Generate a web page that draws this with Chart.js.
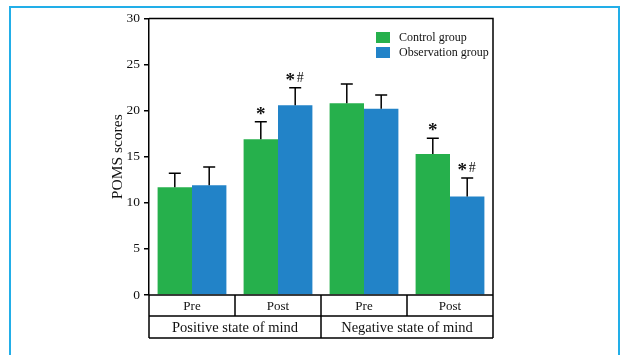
<!DOCTYPE html>
<html>
<head>
<meta charset="utf-8">
<script src="https://cdn.jsdelivr.net/npm/chart.js@4/dist/chart.umd.min.js"></script>
<style>
  html, body { margin: 0; padding: 0; background: #fff; }
  #wrap { position: relative; width: 623px; height: 355px; }
</style>
</head>
<body>
<div id="wrap"><canvas id="c" width="623" height="355"></canvas></div>
<script>
// POMS scores, mean with upper SD whisker
const timepoints = ['Pre', 'Post', 'Pre', 'Post'];
const domains = ['Positive state of mind', 'Negative state of mind'];
const seriesNames = ['Control group', 'Observation group'];
const controlMeans = [11.7, 16.9, 20.8, 15.3];
const controlSD = [1.5, 1.9, 2.1, 1.7];
const observationMeans = [11.9, 20.6, 20.2, 10.7];
const observationSD = [2.0, 1.9, 1.5, 2.0];
const controlMarks = ['', '*', '', '*'];
const observationMarks = ['', '*#', '', '*#'];
const yTicks = [0, 5, 10, 15, 20, 25, 30];

const GREEN = '#26b04c';
const BLUE = '#2283c8';
const SERIF = '"Liberation Serif", "Times New Roman", serif';

const sdBySet = [controlSD, observationSD];
const marksBySet = [controlMarks, observationMarks];

const figurePlugin = {
  id: 'figure',
  afterDatasetsDraw(chart) {
    const ctx = chart.ctx;
    const y = chart.scales.y;
    ctx.save();
    ctx.strokeStyle = '#000';
    ctx.fillStyle = '#111';
    ctx.lineWidth = 1.5;
    chart.data.datasets.forEach((ds, di) => {
      const meta = chart.getDatasetMeta(di);
      meta.data.forEach((bar, i) => {
        const top = y.getPixelForValue(ds.data[i] + sdBySet[di][i]);
        const base = y.getPixelForValue(ds.data[i]);
        const cx = bar.x;
        ctx.beginPath();
        ctx.moveTo(cx, base);
        ctx.lineTo(cx, top);
        ctx.moveTo(cx - 6, top);
        ctx.lineTo(cx + 6, top);
        ctx.stroke();
        const mark = marksBySet[di][i];
        if (mark) {
          ctx.textAlign = 'center';
          ctx.textBaseline = 'alphabetic';
          ctx.font = 'bold 19px ' + SERIF;
          if (mark === '*') {
            ctx.fillText('*', cx, top - 2);
          } else {
            ctx.fillText('*', cx - 5, top - 2);
            ctx.font = '14px ' + SERIF;
            ctx.fillText('#', cx + 5, top - 6);
          }
        }
      });
    });
    ctx.restore();
  },
  afterDraw(chart) {
    const ctx = chart.ctx;
    const { left, right, top, bottom } = chart.chartArea;
    const x = chart.scales.x;
    const n = timepoints.length;
    const step = (right - left) / n;
    const row1 = bottom + 21;
    const row2 = bottom + 43;

    ctx.save();
    ctx.strokeStyle = '#000';
    ctx.lineWidth = 1.5;
    // plot frame: top and right edges
    ctx.beginPath();
    ctx.moveTo(left, top);
    ctx.lineTo(right, top);
    ctx.lineTo(right, row2);
    ctx.stroke();

    // category table under the axis
    ctx.beginPath();
    ctx.moveTo(left, bottom); ctx.lineTo(right, bottom);
    ctx.moveTo(left, row1); ctx.lineTo(right, row1);
    ctx.moveTo(left, row2); ctx.lineTo(right, row2);
    ctx.moveTo(left, bottom); ctx.lineTo(left, row2);
    for (let i = 1; i < n; i++) {
      const bx = x.getPixelForValue(i) - step / 2;
      ctx.moveTo(bx, bottom);
      ctx.lineTo(bx, i === n / 2 ? row2 : row1);
    }
    ctx.stroke();

    ctx.fillStyle = '#111';
    ctx.textAlign = 'center';
    ctx.textBaseline = 'middle';
    ctx.font = '13px ' + SERIF;
    timepoints.forEach((t, i) => {
      ctx.fillText(t, x.getPixelForValue(i), (bottom + row1) / 2 + 1);
    });
    ctx.font = '14.5px ' + SERIF;
    const per = n / domains.length;
    domains.forEach((d, g) => {
      const cx = (x.getPixelForValue(g * per) + x.getPixelForValue(g * per + per - 1)) / 2;
      ctx.fillText(d, cx, (row1 + row2) / 2 + 1);
    });

    // legend
    const lx = right - 117;
    ctx.font = '12px ' + SERIF;
    ctx.textAlign = 'left';
    chart.data.datasets.forEach((ds, di) => {
      const cy = top + 19 + di * 15;
      ctx.fillStyle = ds.backgroundColor;
      ctx.fillRect(lx, cy - 5.5, 14, 11);
      ctx.fillStyle = '#111';
      ctx.fillText(ds.label, lx + 23, cy);
    });

    // page border
    ctx.strokeStyle = '#22aee8';
    ctx.lineWidth = 2;
    ctx.beginPath();
    ctx.moveTo(10, 360);
    ctx.lineTo(10, 7);
    ctx.lineTo(619, 7);
    ctx.lineTo(619, 360);
    ctx.stroke();
    ctx.restore();
  }
};

new Chart(document.getElementById('c'), {
  type: 'bar',
  data: {
    labels: timepoints,
    datasets: [
      { label: seriesNames[0], data: controlMeans, backgroundColor: GREEN },
      { label: seriesNames[1], data: observationMeans, backgroundColor: BLUE }
    ]
  },
  options: {
    responsive: false,
    animation: false,
    devicePixelRatio: 1,
    categoryPercentage: 0.8,
    barPercentage: 1.0,
    layout: { padding: { left: 100, right: 130, top: 18.5, bottom: 60 } },
    plugins: { legend: { display: false }, tooltip: { enabled: false } },
    scales: {
      x: { display: false },
      y: {
        min: 0,
        max: 30,
        afterFit(scale) { scale.width = 49; },
        afterBuildTicks(scale) { scale.ticks = yTicks.map(v => ({ value: v })); },
        ticks: { color: '#111', padding: 4, font: { family: SERIF, size: 13.5 } },
        grid: { drawOnChartArea: false, drawTicks: true, tickLength: 5, color: '#000', lineWidth: 1.5 },
        border: { display: true, color: '#000', width: 1.5 },
        title: {
          display: true,
          text: 'POMS scores',
          color: '#111',
          font: { family: SERIF, size: 15.5 },
          padding: { top: 9, bottom: 0 }
        }
      }
    }
  },
  plugins: [figurePlugin]
});
</script>
</body>
</html>
